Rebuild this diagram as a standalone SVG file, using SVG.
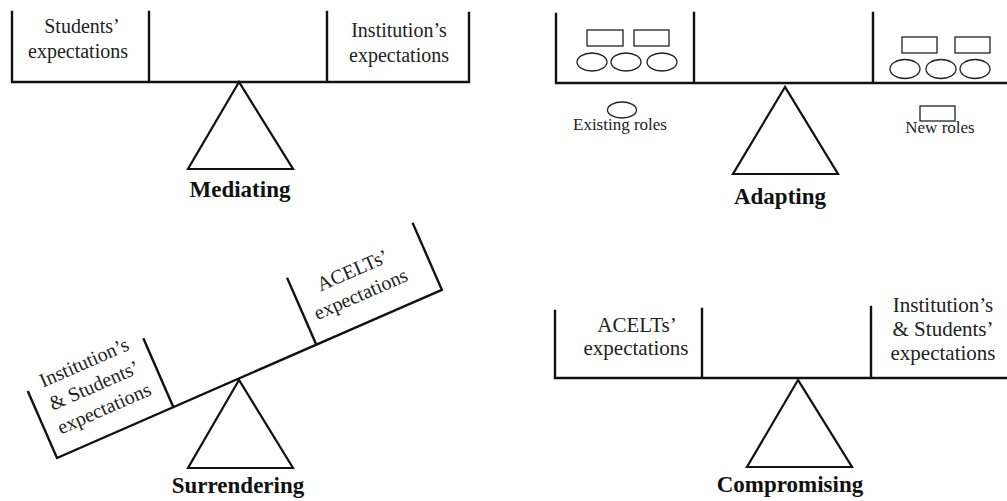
<svg xmlns="http://www.w3.org/2000/svg" width="1007" height="501" viewBox="0 0 1007 501">
<style>
.ln{fill:none;stroke:#111;stroke-width:2.4;stroke-linecap:square;stroke-linejoin:miter}
.tri{fill:none;stroke:#111;stroke-width:2.2;stroke-linejoin:miter}
.sm{fill:none;stroke:#222;stroke-width:1.3}
.t{font-family:"Liberation Serif","Times New Roman",serif;font-size:20px;fill:#222;text-anchor:middle}
.t21{font-size:21px}
.leg{font-family:"Liberation Serif","Times New Roman",serif;font-size:17px;fill:#222;text-anchor:middle}
.ttl{font-family:"Liberation Serif","Times New Roman",serif;font-size:23px;font-weight:bold;fill:#111;text-anchor:middle}
</style>
<rect width="1007" height="501" fill="#fff"/>
<g id="mediating">
  <path class="ln" d="M12,12 L12,82 L469,82 L469,13 M149,12 L149,82 M327,12 L327,82"/>
  <polygon class="tri" points="239,82 188,169 293,169"/>
  <text class="t" x="82" y="33">Students’</text>
  <text class="t" x="78" y="58">expectations</text>
  <text class="t" x="399" y="37">Institution’s</text>
  <text class="t" x="399" y="62">expectations</text>
  <text class="ttl" x="240" y="197">Mediating</text>
</g>
<g id="adapting">
  <path class="ln" d="M556,14 L556,83 L1007,83 M694,13 L694,83 M873,13 L873,83"/>
  <polygon class="tri" points="785,87 733,174 838,174"/>
  <rect class="sm" x="587" y="30" width="36" height="16"/>
  <rect class="sm" x="634" y="30" width="35" height="16"/>
  <ellipse class="sm" cx="592" cy="62" rx="15" ry="9"/>
  <ellipse class="sm" cx="626" cy="62" rx="15" ry="9"/>
  <ellipse class="sm" cx="662" cy="62" rx="15" ry="9"/>
  <rect class="sm" x="902" y="37" width="35" height="16"/>
  <rect class="sm" x="955" y="37" width="35" height="16"/>
  <ellipse class="sm" cx="905" cy="69" rx="15" ry="9.5"/>
  <ellipse class="sm" cx="941" cy="69" rx="15" ry="9.5"/>
  <ellipse class="sm" cx="975" cy="69" rx="15" ry="9.5"/>
  <ellipse class="sm" cx="622" cy="110" rx="14.5" ry="8"/>
  <text class="leg" x="620" y="130">Existing roles</text>
  <rect class="sm" x="920" y="106" width="35" height="15"/>
  <text class="leg" x="940" y="133">New roles</text>
  <text class="ttl" x="780" y="204">Adapting</text>
</g>
<g id="surrendering">
  <g transform="translate(57,458) rotate(-23.6)">
    <path class="ln" d="M0,-72 L0,0 L420,0 L420,-72 M127,0 L127,-74 M283,0 L283,-72"/>
    <text class="t" x="63" y="-70">Institution’s</text>
    <text class="t" x="63" y="-45">&amp; Students’</text>
    <text class="t" x="63" y="-20">expectations</text>
    <text class="t" x="346" y="-47">ACELTs’</text>
    <text class="t" x="344" y="-22">expectations</text>
  </g>
  <polygon class="tri" points="239,380 188,468 293,468"/>
  <text class="ttl" x="238" y="493">Surrendering</text>
</g>
<g id="compromising">
  <path class="ln" d="M555,311 L555,378 L1007,378 M702,309 L702,378 M871,307 L871,378"/>
  <polygon class="tri" points="798,380 747,467 852,467"/>
  <text class="t t21" x="637" y="332">ACELTs’</text>
  <text class="t t21" x="636" y="355">expectations</text>
  <text class="t t21" x="943" y="312">Institution’s</text>
  <text class="t t21" x="943" y="336">&amp; Students’</text>
  <text class="t t21" x="943" y="360">expectations</text>
  <text class="ttl" x="790" y="492">Compromising</text>
</g>
</svg>
